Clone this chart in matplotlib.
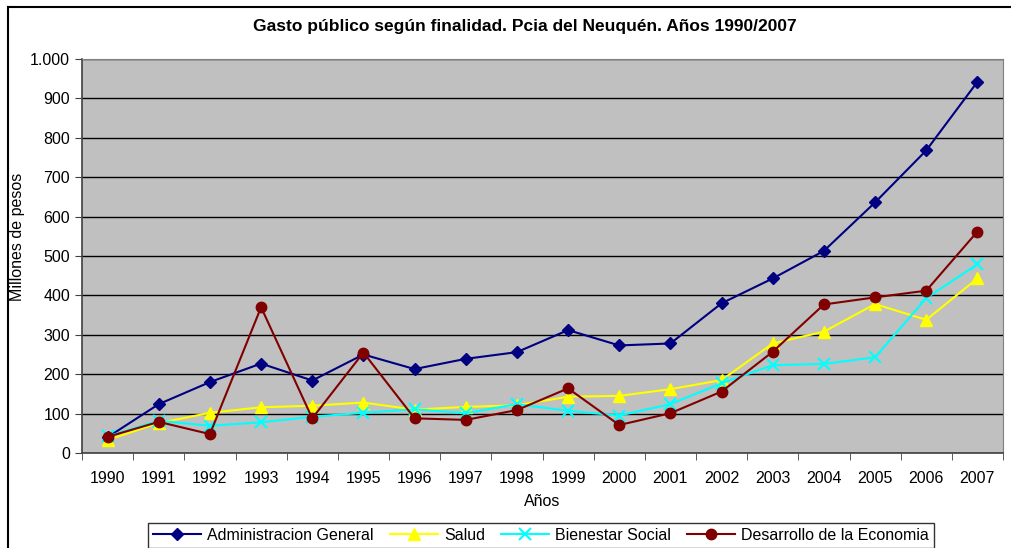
import matplotlib
matplotlib.use("Agg")
import matplotlib.pyplot as plt
from matplotlib.lines import Line2D
from matplotlib.ticker import FuncFormatter, FixedLocator

plt.rcParams['font.family'] = ['Liberation Sans', 'DejaVu Sans']

years = ['1990', '1991', '1992', '1993', '1994', '1995', '1996', '1997', '1998',
         '1999', '2000', '2001', '2002', '2003', '2004', '2005', '2006', '2007']
admin = [40, 124, 180, 227, 184, 250, 213, 239, 256, 312, 273, 278, 380, 443, 513, 636, 768, 942]
salud = [33, 76, 102, 116, 120, 128, 110, 117, 121, 143, 145, 162, 185, 278, 308, 378, 338, 443]
bienestar = [42, 82, 69, 78, 92, 102, 111, 101, 124, 107, 95, 124, 177, 223, 226, 243, 393, 479]
desarrollo = [41, 79, 48, 370, 88, 255, 88, 84, 109, 164, 71, 101, 156, 257, 377, 395, 412, 562]

series = [
    ('Administracion General', admin, '#000080', 'D', 6.5),
    ('Salud', salud, '#FFFF00', '^', 8),
    ('Bienestar Social', bienestar, '#00FFFF', 'x', 8),
    ('Desarrollo de la Economia', desarrollo, '#800000', 'o', 7.5),
]

W, H = 1011, 548
fig = plt.figure(figsize=(W/100, H/100), dpi=100)
ax = fig.add_axes([82/W, 1-453/H, (1003-82)/W, (453-59)/H])
ax.set_facecolor('#C0C0C0')

x = list(range(len(years)))
for name, vals, col, mk, ms in series:
    ax.plot(x, vals, color=col, marker=mk, markersize=ms, linewidth=1.5,
            markeredgecolor=col, markeredgewidth=1.5 if mk == 'x' else 1, label=name)

ax.set_xlim(-0.5, len(years) - 0.5)
ax.set_ylim(0, 1000)
ax.set_yticks(range(0, 1001, 100))
ax.yaxis.set_major_formatter(FuncFormatter(lambda v, p: f"{int(v):,}".replace(',', '.')))
ax.set_xticks(x)
ax.set_xticklabels(years)
ax.tick_params(axis='x', which='major', length=0, labelsize=11.5, pad=13)
ax.xaxis.set_minor_locator(FixedLocator([i - 0.5 for i in range(len(years) + 1)]))
ax.tick_params(axis='x', which='minor', length=5, direction='out', color='#404040')
ax.tick_params(axis='y', labelsize=11.5, length=5, color='#404040')
ax.grid(axis='y', color='black', linewidth=1)
ax.set_axisbelow(True)
for s in ['top', 'right']:
    ax.spines[s].set_color('#808080')
for s in ['left', 'bottom']:
    ax.spines[s].set_color('#404040')
    ax.spines[s].set_linewidth(1.2)

ax.set_xlabel('Años', fontsize=11.5, labelpad=6)
ax.set_ylabel('Millones de pesos', fontsize=11.5)
ax.yaxis.set_label_coords((25 - 82) / (1003 - 82), (453 - 237) / (453 - 59))
fig.text(525/W, 1 - 27/H, 'Gasto público según finalidad. Pcia del Neuquén. Años 1990/2007',
         ha='center', va='center', fontsize=12.5, fontweight='bold')

leg = fig.legend(loc='upper center', bbox_to_anchor=(541/W, 1 - 523/H), ncol=4,
                 fontsize=11.5, frameon=True, fancybox=False, edgecolor='black',
                 borderpad=0.3, borderaxespad=0, handlelength=3, columnspacing=1.0,
                 handletextpad=0.4)
leg.get_frame().set_linewidth(1)

# outer chart frame (left and top edges visible)
fig.add_artist(Line2D([8/W, 8/W], [0, 1 - 7/H], transform=fig.transFigure,
                      color='black', linewidth=1.5))
fig.add_artist(Line2D([8/W, 1], [1 - 7/H, 1 - 7/H], transform=fig.transFigure,
                      color='black', linewidth=1.5))
fig.savefig('out.png', dpi=100)
